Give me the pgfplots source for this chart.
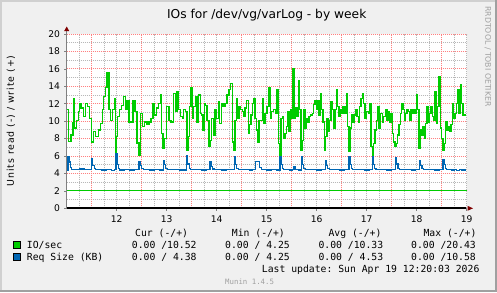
\documentclass[border=0pt]{standalone}
\usepackage{pgfplots}
\pgfplotsset{compat=1.18}
\usepackage{fontspec}
\setmainfont{DejaVu Sans}
\setmonofont{DejaVu Sans Mono}
\definecolor{bg}{HTML}{F0F0F0}
\definecolor{edgelight}{HTML}{D0D0D0}
\definecolor{edgedark}{HTML}{A0A0A0}
\definecolor{gridred}{HTML}{FF8080}
\definecolor{gridgray}{HTML}{B8B8B8}
\definecolor{arrowred}{HTML}{800000}
\definecolor{iogreen}{HTML}{00CC00}
\definecolor{reqblue}{HTML}{0066B3}
\definecolor{faint}{HTML}{A0A0A0}
\begin{document}
\begin{tikzpicture}[x=1bp,y=1bp]
\useasboundingbox (0,0) rectangle (497,292);
\fill[bg] (0,0) rectangle (497,292);
\fill[edgelight] (0,0) rectangle (2,292);
\fill[edgelight] (0,290) rectangle (497,292);
\fill[edgedark] (0,0) rectangle (497,2);
\fill[edgedark] (495,0) rectangle (497,292);
% plot canvas
\fill[white] (66.7,83.7) rectangle (466.7,258);
% grid
\foreach \v in {1,3,...,19} \draw[gridgray, line width=0.8bp, dash pattern=on 1bp off 1bp] (66.7,{83.7+\v*8.715}) -- (466.7,{83.7+\v*8.715});
\foreach \k in {1,3,...,31} \draw[gridgray, line width=0.8bp, dash pattern=on 1bp off 1bp] ({66.7+\k*12.5},83.7) -- ({66.7+\k*12.5},258);
\foreach \k in {4,8,...,32} \draw[gridgray, line width=0.8bp, dash pattern=on 1bp off 1bp] ({66.7+\k*12.5},83.7) -- ({66.7+\k*12.5},258);
\foreach \v in {2,4,...,20} \draw[gridred, line width=0.8bp, dash pattern=on 1bp off 1bp] (66.7,{83.7+\v*8.715}) -- (466.7,{83.7+\v*8.715});
\foreach \k in {2,6,...,30} \draw[gridred, line width=0.8bp, dash pattern=on 1bp off 1bp] ({66.7+\k*12.5},83.7) -- ({66.7+\k*12.5},258);
\begin{axis}[
  at={(66.7bp,83.7bp)}, anchor=south west, scale only axis,
  width=400bp, height=174.3bp,
  xmin=11, xmax=19, ymin=0, ymax=20,
  axis line style={draw=none},
  xtick={12,...,19}, ytick={0,2,...,20},
  xtick pos=bottom, ytick pos=left,
  tick align=outside, major tick length=2.5bp,
  tick style={draw=gray, line width=0.6bp},
  /pgf/number format/assume math mode=true,
  yticklabel style={font=\fontsize{9.2}{10}\selectfont, anchor=east, inner sep=0pt, xshift=-4bp},
  xticklabel style={font=\fontsize{9.2}{10}\selectfont, anchor=north, inner sep=0pt, yshift=-4.5bp},
  clip=false,
]
\addplot[iogreen, line width=1.1bp] coordinates {(11,2) (19,2)};
\addplot[black, line width=2bp] coordinates {(11,0) (18.98,0)};
\addplot[const plot, iogreen, line width=1.3bp] coordinates {
(11.0,11.36)(11.033,7.7)(11.087,8.4)(11.127,9.8)(11.14,12.6)(11.16,9.2)(11.193,10.1)(11.233,11.1)(11.26,12.0)(11.287,11.5)(11.34,10.5)(11.38,12.0)(11.42,11.7)(11.46,10.3)(11.50,7.6)(11.54,8.8)(11.58,8.2)(11.633,9.0)(11.673,9.7)(11.713,11.3)(11.74,12.8)(11.78,13.9)(11.807,15.6)(11.847,11.3)(11.873,10.1)(11.913,11.3)(11.953,12.6)(11.98,6.1)(11.993,8.2)(12.02,10.5)(12.06,11.3)(12.1,11.8)(12.14,12.8)(12.18,11.3)(12.207,12.4)(12.247,9.9)(12.327,12.4)(12.367,11.1)(12.407,7.5)(12.447,6.1)(12.473,10.9)(12.513,9.4)(12.553,9.9)(12.607,9.6)(12.647,9.9)(12.687,10.3)(12.727,12.0)(12.753,10.7)(12.793,11.5)(12.833,12.0)(12.873,13.0)(12.9,8.6)(12.927,6.9)(12.953,8.0)(12.993,11.7)
(13.047,10.1)(13.087,9.9)(13.14,13.2)(13.18,11.1)(13.207,13.4)(13.233,11.3)(13.273,10.5)(13.313,10.3)(13.34,11.3)(13.38,11.1)(13.407,6.7)(13.433,8.2)(13.46,11.7)(13.487,13.8)(13.513,10.3)(13.54,11.7)(13.58,12.8)(13.607,9.9)(13.633,13.0)(13.673,10.9)(13.7,10.7)(13.727,9.0)(13.753,12.0)(13.78,11.8)(13.807,10.1)(13.847,7.1)(13.873,7.8)(13.9,10.3)(13.94,8.4)(13.967,11.3)(13.993,10.3)(14.033,12.2)(14.06,9.7)(14.1,12.0)(14.127,11.7)(14.167,12.0)(14.207,13.0)(14.247,13.6)(14.273,14.3)(14.313,7.6)(14.34,6.7)(14.367,10.1)(14.393,12.6)(14.42,10.3)(14.447,11.7)(14.473,11.3)(14.513,11.1)(14.54,10.5)(14.567,11.5)(14.593,12.4)(14.633,8.6)(14.66,9.6)(14.687,10.7)(14.713,12.0)(14.74,12.6)(14.767,10.3)(14.793,9.0)(14.82,7.6)(14.847,10.1)(14.913,12.6)(14.94,9.7)(14.967,10.9)(15.007,11.7)
(15.047,13.9)(15.073,10.3)(15.1,11.1)(15.14,11.3)(15.18,10.9)(15.207,13.6)(15.233,7.45)(15.26,6.1)(15.287,10.3)(15.313,10.5)(15.34,8.0)(15.367,8.6)(15.393,9.4)(15.42,11.1)(15.447,8.8)(15.473,11.3)(15.5,10.3)(15.527,16.05)(15.553,10.3)(15.58,11.5)(15.607,10.5)(15.633,14.7)(15.66,11.3)(15.687,6.7)(15.713,7.8)(15.74,11.3)(15.767,9.2)(15.793,10.3)(15.82,9.9)(15.847,10.5)(15.873,10.7)(15.913,10.9)(15.94,11.9)(15.967,12.4)(15.993,11.3)(16.02,12.4)(16.047,10.7)(16.073,13.2)(16.1,11.3)(16.127,9.9)(16.153,6.7)(16.18,8.2)(16.207,10.3)(16.233,8.8)(16.26,10.1)(16.287,12.2)(16.313,11.3)(16.34,9.2)(16.367,11.3)(16.393,13.6)(16.42,11.7)(16.447,10.5)(16.473,11.3)(16.5,10.9)(16.527,11.7)(16.567,10.9)(16.593,13.2)(16.62,9.4)(16.647,6.5)(16.673,9.2)(16.7,10.7)(16.727,9.9)(16.753,10.7)(16.78,11.3)(16.807,10.5)(16.833,9.9)(16.86,11.7)(16.887,12.6)(16.913,13.2)(16.94,12.0)(16.967,10.3)(16.993,11.1)
(17.033,10.9)(17.06,12.0)(17.087,7.1)(17.113,5.9)(17.14,7.45)(17.167,9.0)(17.193,10.1)(17.22,11.7)(17.247,9.2)(17.273,10.9)(17.313,9.9)(17.34,10.5)(17.38,11.3)(17.407,10.1)(17.433,11.1)(17.46,9.9)(17.487,10.9)(17.513,8.6)(17.54,7.6)(17.567,7.1)(17.593,7.45)(17.62,8.4)(17.647,9.6)(17.673,10.9)(17.7,12.0)(17.727,11.3)(17.753,10.1)(17.78,10.9)(17.807,11.3)(17.833,11.1)(17.86,10.1)(17.887,11.3)(17.913,10.9)(17.94,11.3)(17.967,10.9)(17.993,13.0)(18.02,11.3)(18.047,6.9)(18.073,9.0)(18.1,8.4)(18.127,9.4)(18.153,8.0)(18.18,9.7)(18.207,11.7)(18.233,9.9)(18.26,10.9)(18.287,11.7)(18.313,10.5)(18.34,10.1)(18.367,13.4)(18.393,9.7)(18.42,11.7)(18.447,15.1)(18.473,9.2)(18.5,8.0)(18.527,6.7)(18.553,7.45)(18.58,9.9)(18.607,9.0)(18.633,9.4)(18.66,8.8)(18.687,9.6)(18.713,12.0)(18.74,10.3)(18.767,10.9)(18.793,12.0)(18.82,13.6)(18.847,10.9)(18.873,14.2)(18.9,12.0)(18.927,10.7)(18.98,10.7)
};
\addplot[const plot, reqblue, line width=1.3bp] coordinates {
(11.00,4.40)(11.026,5.90)(11.045,5.30)(11.07,4.70)(11.09,4.45)(11.25,4.50)(11.35,4.45)
(11.50,5.70)(11.52,4.90)(11.55,4.60)(11.58,4.45)(11.70,4.40)(11.80,4.45)(11.90,4.35)(11.95,4.45)
(11.986,6.30)(12.005,5.00)(12.03,4.55)(12.06,4.40)(12.15,4.45)(12.25,4.40)(12.35,4.45)
(12.446,5.30)(12.47,4.90)(12.50,4.55)(12.53,4.45)(12.65,4.40)(12.75,4.45)(12.85,4.40)
(12.932,5.50)(12.955,5.00)(12.98,4.60)(13.01,4.45)(13.15,4.45)(13.25,4.40)
(13.40,6.00)(13.42,5.10)(13.45,4.60)(13.48,4.45)(13.60,4.45)(13.70,4.40)(13.80,4.45)
(13.866,5.40)(13.89,4.80)(13.92,4.50)(13.95,4.45)(14.10,4.40)(14.20,4.45)(14.30,4.45)
(14.352,5.90)(14.375,5.00)(14.40,4.60)(14.43,4.45)(14.55,4.45)(14.65,4.40)(14.72,4.45)
(14.78,5.35)(14.84,5.40)(14.86,4.70)(14.89,4.45)(15.00,4.40)(15.10,4.45)(15.20,4.40)
(15.266,5.95)(15.285,5.00)(15.31,4.55)(15.34,4.45)(15.45,4.40)(15.52,4.45)
(15.546,4.80)(15.57,4.45)(15.64,4.40)
(15.696,5.90)(15.715,5.00)(15.74,4.55)(15.77,4.45)(15.90,4.45)(16.00,4.40)(16.10,4.45)
(16.172,5.50)(16.195,4.90)(16.22,4.55)(16.25,4.45)(16.35,4.45)(16.45,4.40)(16.55,4.45)
(16.646,5.95)(16.665,5.00)(16.69,4.55)(16.72,4.45)(16.85,4.45)(16.95,4.40)(17.05,4.45)
(17.112,5.95)(17.13,5.00)(17.155,4.55)(17.185,4.45)(17.30,4.45)(17.40,4.40)(17.50,4.45)
(17.58,5.85)(17.60,5.10)(17.625,4.60)(17.655,4.45)(17.80,4.45)(17.90,4.40)(17.98,4.45)
(18.06,5.50)(18.08,4.90)(18.105,4.55)(18.135,4.45)(18.25,4.45)(18.35,4.40)(18.45,4.45)
(18.526,5.60)(18.545,5.00)(18.57,4.55)(18.60,4.45)(18.70,4.40)(18.75,4.45)(18.80,4.35)(18.85,4.45)(18.90,4.40)(18.98,4.40)
};
\end{axis}
% axis lines and arrows
\draw[gray, line width=0.8bp] (66.7,83.7) -- (66.7,262);
\fill[arrowred] (64.2,261) -- (69.2,261) -- (66.7,265.5) -- cycle;
\fill[arrowred] (467.5,86.2) -- (467.5,81.2) -- (473,83.7) -- cycle;
% texts
\node[anchor=base, inner sep=0pt, font=\fontsize{12.3}{14}\selectfont] at (266.7,273.7) {IOs for /dev/vg/varLog - by week};
\node[rotate=90, inner sep=0pt, font=\fontsize{9.4}{11}\selectfont\addfontfeatures{LetterSpace=10}] at (11,171) {Units read (-) / write (+)};
\node[rotate=-90, inner sep=0pt, text=faint, font=\fontsize{7.8}{9}\selectfont] at (488,235.5) {RRDTOOL / TOBI OETIKER};
% legend
\begin{scope}[every node/.style={anchor=base west, inner sep=0pt, font=\ttfamily\fontsize{9.8}{11}\selectfont}]
\node at (135,56) {Cur (-/+)};
\node at (231.7,56) {Min (-/+)};
\node at (328.3,56) {Avg (-/+)};
\node at (423.3,56) {Max (-/+)};
\filldraw[fill=iogreen, draw=black, line width=0.6bp] (13.3,43.9) rectangle (20.7,51.1);
\filldraw[fill=reqblue, draw=black, line width=0.6bp] (13.3,31.5) rectangle (20.7,38.7);
\node at (26.7,43.7) {IO/sec};
\node at (26.7,31.7) {Req Size (KB)};
\node at (131.7,43.7) {0.00 /10.52};
\node at (225,43.7) {0.00 / 4.25};
\node at (318.3,43.7) {0.00 /10.33};
\node at (411,43.7) {0.00 /20.43};
\node at (131.7,31.7) {0.00 / 4.38};
\node at (225,31.7) {0.00 / 4.25};
\node at (318.3,31.7) {0.00 / 4.53};
\node at (411,31.7) {0.00 /10.58};
\node at (261.7,19.3) {Last update: Sun Apr 19 12:20:03 2026};
\node[text=faint, font=\ttfamily\fontsize{7.4}{8}\selectfont] at (225,8) {Munin 1.4.5};
\end{scope}
\end{tikzpicture}
\end{document}
